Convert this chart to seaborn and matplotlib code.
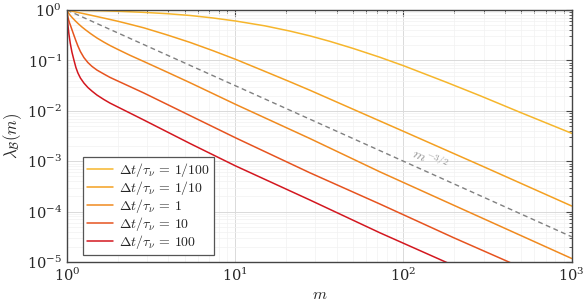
import numpy as np
import pandas as pd
import matplotlib
matplotlib.use("Agg")
import matplotlib.pyplot as plt
import seaborn as sns

# ---- data ----
labels = [r"$\Delta t/\tau_\nu \,=\, 1/100$", r"$\Delta t/\tau_\nu \,=\, 1/10$",
          r"$\Delta t/\tau_\nu \,=\, 1$", r"$\Delta t/\tau_\nu \,=\, 10$",
          r"$\Delta t/\tau_\nu \,=\, 100$"]
colors = ["#f6b62c", "#f4a021", "#f08a1f", "#e6531f", "#d3171f"]

m_r100 = [1, 1.507, 2.009, 2.868, 3.929, 5.382, 7.371, 10.1, 15.02, 21.13, 27.8,
          36.53, 50.05, 72.4, 100.6, 179.8, 285.5, 498.4, 1000]
l_r100 = [1, 0.9730, 0.9467, 0.9003, 0.8485, 0.7814, 0.6971, 0.6049, 0.4859, 0.3831,
          0.3076, 0.2393, 0.1738, 0.1158, 0.0781, 0.03693, 0.01994, 0.009211, 0.003578]

m_r10 = [1, 1.1005, 1.1947, 1.3328, 1.5073, 1.729, 2.009, 2.368, 2.868, 3.929, 5.382,
         7.371, 10.1, 14.61, 21.13, 27.8, 53.6, 100.6, 300.5, 1000]
l_r10 = [1, 0.9338, 0.8798, 0.8141, 0.7431, 0.6720, 0.5995, 0.5227, 0.4434, 0.3220,
         0.2286, 0.1564, 0.1046, 0.06302, 0.03779, 0.02563, 0.009774, 0.003884,
         0.000774, 0.0001291]

m_1 = [1, 1.00686, 1.01794, 1.0348, 1.0563, 1.0855, 1.1233, 1.1704, 1.2276, 1.2971,
       1.3888, 1.5073, 1.6593, 1.8007, 2.009, 2.368, 2.868, 3.929, 5.382, 10.1, 27.8,
       72.4, 199.3, 1000]
l_1 = [1, 0.9553, 0.8960, 0.8254, 0.7568, 0.6846, 0.6077, 0.5322, 0.4621, 0.3993,
       0.3372, 0.2795, 0.2307, 0.1984, 0.1653, 0.1268, 0.0951, 0.0589, 0.03626,
       0.01334, 0.002821, 0.000616, 0.0001334, 1.173e-5]

m_10 = [1, 1.0041, 1.011, 1.0221, 1.0362, 1.0505, 1.0708, 1.1005, 1.131, 1.1627,
        1.2027, 1.2619, 1.3328, 1.4077, 1.5073, 1.6593, 1.8007, 2.009, 2.368, 2.868,
        5.382, 10.1, 27.8, 72.4, 199.3, 423, 646]
l_10 = [1, 0.872, 0.760, 0.648, 0.557, 0.4926, 0.410, 0.316, 0.245, 0.193, 0.150,
        0.114, 0.0908, 0.0764, 0.0645, 0.0537, 0.0462, 0.0390, 0.0303, 0.02256,
        0.00807, 0.00289, 0.000589, 0.0001416, 3.02e-5, 1.0e-5, 5.27e-6]

m_100 = [1, 1.0055, 1.0138, 1.0277, 1.0462, 1.0708, 1.1005, 1.131, 1.1627, 1.2027,
         1.2619, 1.3328, 1.4077, 1.5073, 1.6593, 1.8007, 2.009, 2.368, 2.868, 5.4,
         10, 27.8, 72.4, 178, 250]
l_100 = [1, 0.726, 0.504, 0.334, 0.2215, 0.1468, 0.1019, 0.0723, 0.0562, 0.0448,
         0.0356, 0.0290, 0.0247, 0.0206, 0.01675, 0.01428, 0.01189, 0.00904, 0.00656,
         0.00224, 0.000813, 0.000170, 3.80e-5, 1.0e-5, 6.0e-6]

m_ref = [1, 1000]
l_ref = [1, 3.162e-5]
ref_label = r"$m^{-3/2}$"

xticks = [1, 10, 100, 1000]
yticks = [1e-5, 1e-4, 1e-3, 1e-2, 1e-1, 1]

# ---- build table ----
series = [(m_r100, l_r100), (m_r10, l_r10), (m_1, l_1), (m_10, l_10), (m_100, l_100)]
frames = []
for lab, (mm, ll) in zip(labels, series):
    frames.append(pd.DataFrame({"m": mm, "lam": ll, "case": lab}))
df = pd.concat(frames, ignore_index=True)
df_ref = pd.DataFrame({"m": m_ref, "lam": l_ref})

sns.set_theme(style="white")
plt.rcParams["mathtext.fontset"] = "cm"
plt.rcParams["font.family"] = ["DejaVu Serif"]

fig = plt.figure(figsize=(5.87, 3.05), dpi=100)
ax = fig.add_axes([0.114, 0.141, 0.86, 0.826])

sns.lineplot(data=df_ref, x="m", y="lam", ax=ax, color="#808080", lw=1.0,
             linestyle=(0, (3.5, 2.5)), legend=False)
sns.lineplot(data=df, x="m", y="lam", hue="case", hue_order=labels,
             palette=colors, ax=ax, lw=1.1, sort=False, estimator=None, legend=False)

ax.set_xscale("log")
ax.set_yscale("log")
ax.set_xlim(1, 1000)
ax.set_ylim(1e-5, 1)
ax.set_xticks(xticks)
ax.set_yticks(yticks)

ax.grid(True, which="major", color="#dadada", lw=0.7)
ax.grid(True, which="minor", color="#f1f1f1", lw=0.5)
ax.set_axisbelow(True)
ax.minorticks_on()
ax.tick_params(which="both", direction="in", top=True, right=True,
               color="#444444", labelsize=10.5)
ax.tick_params(which="major", length=4, width=0.8)
ax.tick_params(which="minor", length=2.2, width=0.6)
for s in ax.spines.values():
    s.set_color("#444444")
    s.set_linewidth(1.0)

ax.set_xlabel(r"$m$", fontsize=11.5, labelpad=1)
ax.set_ylabel(r"$\lambda_{\mathcal{B}}(m)$", fontsize=12, labelpad=2)

ax.text(143, 1.1e-3, ref_label, color="#969696", fontsize=10, rotation=-24,
        ha="center", va="center", rotation_mode="anchor")

handles = [plt.Line2D([], [], color=c, lw=1.1) for c in colors]
leg = ax.legend(handles, labels, loc="lower left", bbox_to_anchor=(0.031, 0.027),
                borderaxespad=0, fontsize=10, handlelength=1.9, handletextpad=0.4,
                labelspacing=0.0, borderpad=0.3, fancybox=False, framealpha=1,
                edgecolor="#555555")
leg.get_frame().set_linewidth(0.9)

fig.savefig("out.png", dpi=100)
